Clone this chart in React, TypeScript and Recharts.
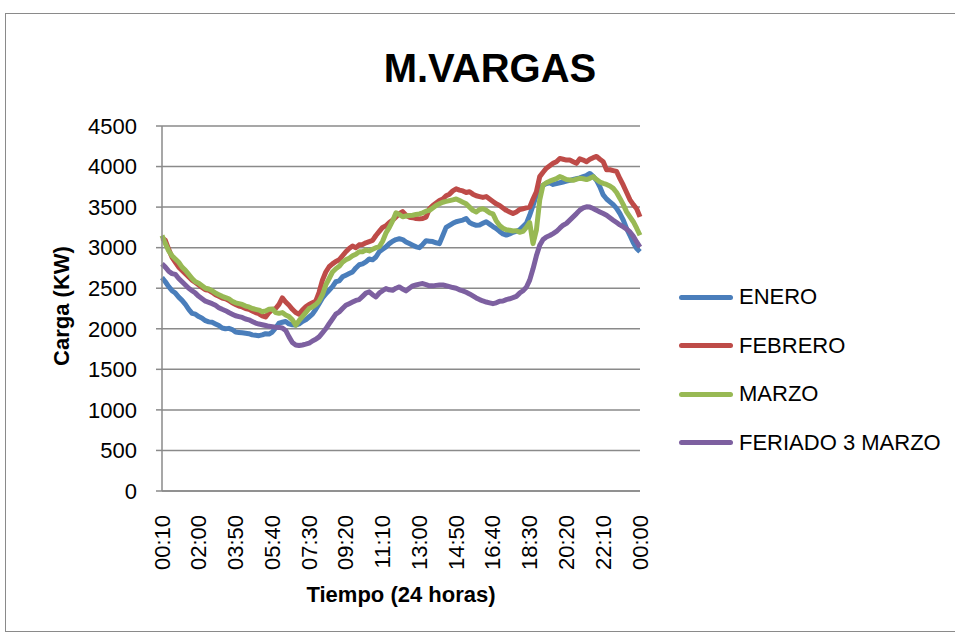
import React from 'react'
import {
  LineChart,
  Line,
  XAxis,
  YAxis,
  CartesianGrid,
} from 'recharts'

// 10-minute readings, 00:10 ... 23:50, 00:00
const times: string[] = []
for (let m = 10; m <= 1440; m += 10) {
  const mm = m % 1440
  const h = Math.floor(mm / 60)
  const min = mm % 60
  times.push(`${String(h).padStart(2, '0')}:${String(min).padStart(2, '0')}`)
}

const yTicks = [0, 500, 1000, 1500, 2000, 2500, 3000, 3500, 4000, 4500]

const enero = [
  2630, 2580, 2520, 2470, 2440, 2390, 2350, 2300, 2240, 2190, 2180, 2150,
  2130, 2100, 2085, 2080, 2060, 2040, 2010, 2000, 2005, 1990, 1960, 1955,
  1950, 1945, 1940, 1925, 1920, 1915, 1925, 1940, 1935, 1960, 2010, 2070,
  2080, 2090, 2060, 2050, 2045, 2060, 2090, 2110, 2145, 2180, 2240, 2310,
  2380, 2430, 2475, 2520, 2580, 2590, 2640, 2660, 2680, 2700, 2750, 2790,
  2800, 2825, 2860, 2850, 2885, 2950, 2980, 3010, 3050, 3080, 3100, 3110,
  3100, 3070, 3050, 3030, 3010, 3000, 3040, 3085, 3080, 3075, 3060, 3050,
  3150, 3250, 3275, 3300, 3320, 3330, 3340, 3360, 3310, 3290, 3275, 3280,
  3300, 3320, 3290, 3260, 3235, 3200, 3170, 3155, 3170, 3190, 3200, 3220,
  3260, 3300, 3400, 3520, 3650, 3720, 3770, 3790, 3800, 3780, 3790, 3800,
  3810, 3820, 3830, 3840, 3850, 3860, 3875, 3890, 3915, 3880, 3830, 3750,
  3650, 3600, 3565, 3530, 3485, 3420, 3340, 3235, 3150, 3060, 2990, 2950,
]

const febrero = [
  3120, 3090, 2980, 2880, 2820, 2760, 2720, 2680, 2640, 2600, 2570, 2540,
  2510, 2480, 2475, 2450, 2420, 2400, 2380, 2370, 2350, 2320, 2300, 2280,
  2270, 2250, 2240, 2220, 2200, 2185, 2160, 2145, 2200, 2235, 2250, 2300,
  2380, 2330, 2290, 2240, 2200, 2180, 2230, 2270, 2300, 2320, 2340, 2450,
  2600, 2700, 2765, 2800, 2830, 2850, 2900, 2950, 2990, 3020, 3000, 3035,
  3040, 3060, 3075, 3090, 3150, 3200, 3250, 3270, 3310, 3340, 3380, 3420,
  3445, 3400, 3376, 3370, 3360, 3355, 3360, 3376, 3480, 3520, 3550, 3580,
  3600, 3640, 3660, 3700, 3725, 3710, 3700, 3680, 3690, 3660, 3640, 3630,
  3620, 3630, 3600, 3570, 3540, 3520, 3490, 3460, 3440, 3420, 3440, 3470,
  3480, 3490, 3500, 3600, 3690, 3876, 3930, 3980, 4010, 4040, 4060, 4100,
  4090, 4080, 4080, 4060, 4040, 4095, 4080, 4060, 4090, 4110, 4125, 4090,
  4060, 3960, 3960, 3950, 3940, 3850, 3770, 3680, 3590, 3530, 3480, 3380,
]

const marzo = [
  3150, 3050, 2960, 2900, 2860, 2820, 2760, 2720, 2670, 2620, 2580, 2560,
  2530, 2500, 2490, 2470, 2440, 2420, 2400, 2385, 2370, 2340, 2320, 2310,
  2300, 2280, 2270, 2250, 2240, 2230, 2210, 2220, 2240, 2244, 2200, 2190,
  2200, 2170, 2150, 2110, 2045, 2100, 2150, 2200, 2250, 2270, 2300, 2340,
  2420, 2540, 2620, 2700, 2740, 2770, 2820, 2850, 2870, 2900, 2920, 2950,
  2950, 2970, 2960, 2980, 3000, 3010, 3080, 3180, 3250, 3330, 3430, 3410,
  3380, 3390, 3397, 3400, 3410, 3417, 3430, 3450, 3460, 3490, 3520, 3540,
  3560, 3570, 3580, 3590, 3600, 3580, 3560, 3540, 3500, 3460, 3440, 3470,
  3480, 3460, 3430, 3417, 3330, 3273, 3240, 3220, 3215, 3205, 3210, 3190,
  3200, 3250, 3310, 3050, 3215, 3587, 3773, 3800, 3820, 3835, 3850, 3876,
  3860, 3840, 3835, 3830, 3845, 3855, 3850, 3840, 3855, 3876, 3840, 3810,
  3793, 3780, 3760, 3731, 3680, 3607, 3530, 3442, 3380, 3320, 3240, 3153,
]

const feriado = [
  2800, 2760, 2710, 2680, 2670, 2620, 2580, 2540, 2500, 2470, 2440, 2400,
  2370, 2340, 2326, 2310, 2290, 2260, 2240, 2223, 2200, 2180, 2160, 2150,
  2140, 2120, 2110, 2090, 2070, 2058, 2050, 2040, 2030, 2025, 2020, 2017,
  2010, 1980, 1900, 1830, 1800, 1793, 1800, 1810, 1822, 1850, 1870, 1900,
  1950, 2000, 2062, 2120, 2180, 2207, 2250, 2290, 2310, 2330, 2350, 2360,
  2400, 2440, 2455, 2420, 2392, 2440, 2470, 2495, 2480, 2475, 2500, 2516,
  2490, 2467, 2500, 2529, 2540, 2550, 2558, 2545, 2530, 2529, 2535, 2540,
  2541, 2530, 2520, 2508, 2500, 2480, 2467, 2450, 2430, 2405, 2380, 2360,
  2343, 2330, 2320, 2310, 2320, 2340, 2343, 2360, 2370, 2384, 2400, 2440,
  2470, 2512, 2600, 2740, 2900, 3030, 3100, 3132, 3150, 3174, 3200, 3240,
  3277, 3300, 3340, 3380, 3420, 3463, 3490, 3504, 3500, 3483, 3460, 3440,
  3421, 3400, 3370, 3339, 3310, 3280, 3256, 3230, 3194, 3140, 3070, 3008,
]

const series = [
  { key: 'enero', name: 'ENERO', color: '#4A7EBB' },
  { key: 'febrero', name: 'FEBRERO', color: '#BE4B48' },
  { key: 'marzo', name: 'MARZO', color: '#98B954' },
  { key: 'feriado', name: 'FERIADO 3 MARZO', color: '#7D60A0' },
]

const data = times.map((t, i) => ({
  time: t,
  enero: enero[i],
  febrero: febrero[i],
  marzo: marzo[i],
  feriado: feriado[i],
}))

const FONT = '"Liberation Sans", Arial, sans-serif'

const XTick = (props: any) => {
  const { x, y, payload } = props
  return (
    <text
      x={x}
      y={y + 16}
      transform={`rotate(-90, ${x}, ${y + 16})`}
      textAnchor="end"
      dominantBaseline="central"
      fontSize={22}
      fontFamily={FONT}
      fill="#000"
    >
      {payload.value}
    </text>
  )
}

const LegendBox = () => (
  <div
    style={{
      position: 'absolute',
      left: 679,
      top: 273,
      fontFamily: FONT,
      fontSize: 22,
      color: '#000',
      whiteSpace: 'nowrap',
    }}
  >
    {series.map(s => (
      <div key={s.key} style={{ height: 48.5, display: 'flex', alignItems: 'center' }}>
        <span
          style={{
            display: 'inline-block',
            width: 54,
            height: 5,
            borderRadius: 3,
            background: s.color,
            marginRight: 6,
          }}
        />
        <span>{s.name}</span>
      </div>
    ))}
  </div>
)

export default function App() {
  return (
    <div style={{ position: 'absolute', left: 0, top: 0, width: 955, height: 635, overflow: 'hidden', background: '#fff' }}>
      <div
        style={{
          position: 'absolute',
          left: 5,
          top: 13,
          width: 960,
          height: 619,
          border: '1.5px solid #8a8a8a',
          boxSizing: 'border-box',
        }}
      />
      <div
        style={{
          position: 'absolute',
          left: 0,
          width: 980,
          top: 45,
          textAlign: 'center',
          fontFamily: FONT,
          fontWeight: 'bold',
          fontSize: 40,
          lineHeight: '46px',
        }}
      >
        M.VARGAS
      </div>
      <div
        style={{
          position: 'absolute',
          left: 62,
          top: 306,
          transform: 'translate(-50%, -50%) rotate(-90deg)',
          whiteSpace: 'nowrap',
          fontFamily: FONT,
          fontWeight: 'bold',
          fontSize: 22,
        }}
      >
        Carga (KW)
      </div>
      <div
        style={{
          position: 'absolute',
          left: 401,
          top: 595,
          transform: 'translate(-50%, -50%)',
          whiteSpace: 'nowrap',
          fontFamily: FONT,
          fontWeight: 'bold',
          fontSize: 22,
        }}
      >
        Tiempo (24 horas)
      </div>
      <div style={{ position: 'absolute', left: 0, top: 0 }}>
        <LineChart
          width={955}
          height={635}
          data={data}
          margin={{ top: 126, right: 315, bottom: 54, left: 102 }}
        >
          <CartesianGrid vertical={false} stroke="#8a8a8a" strokeWidth={1.5} />
          <XAxis
            dataKey="time"
            interval={10}
            tickLine={false}
            axisLine={{ stroke: '#8a8a8a', strokeWidth: 1.5 }}
            tick={<XTick />}
            height={90}
            padding={{ left: 0, right: 0 }}
          />
          <YAxis
            domain={[0, 4500]}
            ticks={yTicks}
            interval={0}
            width={60}
            tickSize={6}
            tickMargin={19}
            axisLine={{ stroke: '#8a8a8a', strokeWidth: 1.5 }}
            tickLine={{ stroke: '#8a8a8a', strokeWidth: 1.5 }}
            tick={{ fill: '#000', fontSize: 22, fontFamily: FONT }}
          />
          {series.map(s => (
            <Line
              key={s.key}
              type="linear"
              dataKey={s.key}
              name={s.name}
              stroke={s.color}
              strokeWidth={5}
              strokeLinejoin="round"
              dot={false}
              isAnimationActive={false}
            />
          ))}
        </LineChart>
      </div>
      <LegendBox />
    </div>
  )
}
